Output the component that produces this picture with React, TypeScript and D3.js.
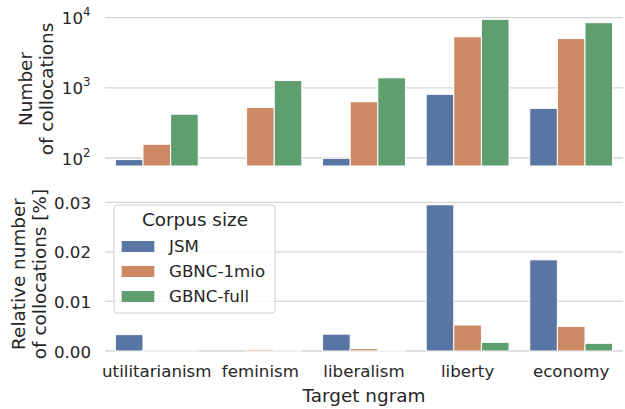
import React from "react";
import * as d3 from "d3";

// categories and series
const ngrams = ["utilitarianism", "feminism", "liberalism", "liberty", "economy"];
const corpora = ["JSM", "GBNC-1mio", "GBNC-full"];
const colors = ["#5975a4", "#cc8963", "#5f9e6e"];

// number of collocations (log scale)
const countJSM = [95, 0, 99, 810, 510];
const count1mio = [157, 527, 634, 5340, 5040];
const countFull = [421, 1270, 1390, 9490, 8490];

// relative number of collocations [%]
const relJSM = [0.0033, 0, 0.0034, 0.0295, 0.0184];
const rel1mio = [0.00002, 0.00028, 0.00046, 0.00524, 0.00498];
const relFull = [0.00001, 0.00001, 0.00008, 0.00175, 0.00155];

const logTicks = [100, 1000, 10000];
const linTicks = [0, 0.01, 0.02, 0.03];

const font = "DejaVu Sans, sans-serif";
const fs = 16.67;
const labelFs = 18.4;

export default function App() {
  const width = 625, height = 409;
  const left = 105, right = 623;

  const x = d3.scaleBand().domain(ngrams).range([left, right]).paddingInner(0).paddingOuter(0);
  const bw = x.bandwidth() * 0.8;
  const xs = d3.scaleBand().domain(corpora).range([0, bw]);

  // top panel
  const yLog = d3.scaleLog().domain([100, 10000]).range([158, 17.7]);
  const topBase = 166, topTop = 12;
  // bottom panel
  const yLin = d3.scaleLinear().domain([0, 0.03]).range([351, 202.3]);
  const botTop = 197;

  const counts = [countJSM, count1mio, countFull];
  const rels = [relJSM, rel1mio, relFull];

  const grid = "#d5d5d5";

  return (
    <svg width={width} height={height} style={{ position: "absolute", left: 0, top: 0 }}
      fontFamily={font} fontSize={fs}>
      <rect width={width} height={height} fill="white" />
      {/* top panel grid */}
      {logTicks.map((t, i) => (
        <g key={"lt" + i}>
          <line x1={left} x2={right} y1={yLog(t)} y2={yLog(t)} stroke={grid} strokeWidth={1.3} />
          <text x={83} y={yLog(t) + 6.5} textAnchor="end" fill="#262626">10</text>
          <text x={83} y={yLog(t) - 1.5} fontSize={11.7} fill="#262626">{Math.round(Math.log10(t))}</text>
        </g>
      ))}
      {counts.map((arr, s) => arr.map((v, i) => v > 0 ? (
        <rect key={"c" + s + i}
          x={(x(ngrams[i]) as number) + x.bandwidth() * 0.1 + (xs(corpora[s]) as number)}
          y={yLog(v)} width={xs.bandwidth()} height={topBase - yLog(v)}
          fill={colors[s]} stroke="white" strokeWidth={1} />
      ) : null))}
      {/* bottom panel grid */}
      {linTicks.map((t, i) => (
        <g key={"bt" + i}>
          <line x1={left} x2={right} y1={yLin(t)} y2={yLin(t)} stroke={grid} strokeWidth={1.3} />
          <text x={91} y={yLin(t) + 6.5} textAnchor="end" fill="#262626">{t.toFixed(2)}</text>
        </g>
      ))}
      {rels.map((arr, s) => arr.map((v, i) => (
        <rect key={"r" + s + i}
          x={(x(ngrams[i]) as number) + x.bandwidth() * 0.1 + (xs(corpora[s]) as number)}
          y={yLin(v)} width={xs.bandwidth()} height={yLin(0) - yLin(v)}
          fill={colors[s]} stroke="white" strokeWidth={1} />
      )))}
      {/* x tick labels */}
      {ngrams.map((n) => (
        <text key={n} x={(x(n) as number) + x.bandwidth() / 2} y={376.7} textAnchor="middle" fill="#262626">{n}</text>
      ))}
      <text x={(left + right) / 2} y={401.5} textAnchor="middle" fontSize={labelFs} fill="#262626">Target ngram</text>
      {/* y labels */}
      <g fontSize={labelFs} fill="#262626" textAnchor="middle">
        <text transform={`translate(31.5,${(topTop + topBase) / 2}) rotate(-90)`}>Number</text>
        <text transform={`translate(52.5,${(topTop + topBase) / 2}) rotate(-90)`}>of collocations</text>
        <text transform={`translate(25,${(botTop + 351) / 2}) rotate(-90)`}>Relative number</text>
        <text transform={`translate(46,${(botTop + 351) / 2}) rotate(-90)`}>of collocations [%]</text>
      </g>
      {/* legend */}
      <g>
        <rect x={114} y={205} width={161} height={108} rx={3} fill="white" fillOpacity={0.8} stroke="#d0d0d0" strokeWidth={1} />
        <text x={195} y={226} textAnchor="middle" fontSize={labelFs} fill="#262626">Corpus size</text>
        {corpora.map((c, i) => (
          <g key={c}>
            <rect x={121.7} y={241 + i * 25} width={32.6} height={11} fill={colors[i]} />
            <text x={169} y={252 + i * 25} fill="#262626">{c}</text>
          </g>
        ))}
      </g>
    </svg>
  );
}
